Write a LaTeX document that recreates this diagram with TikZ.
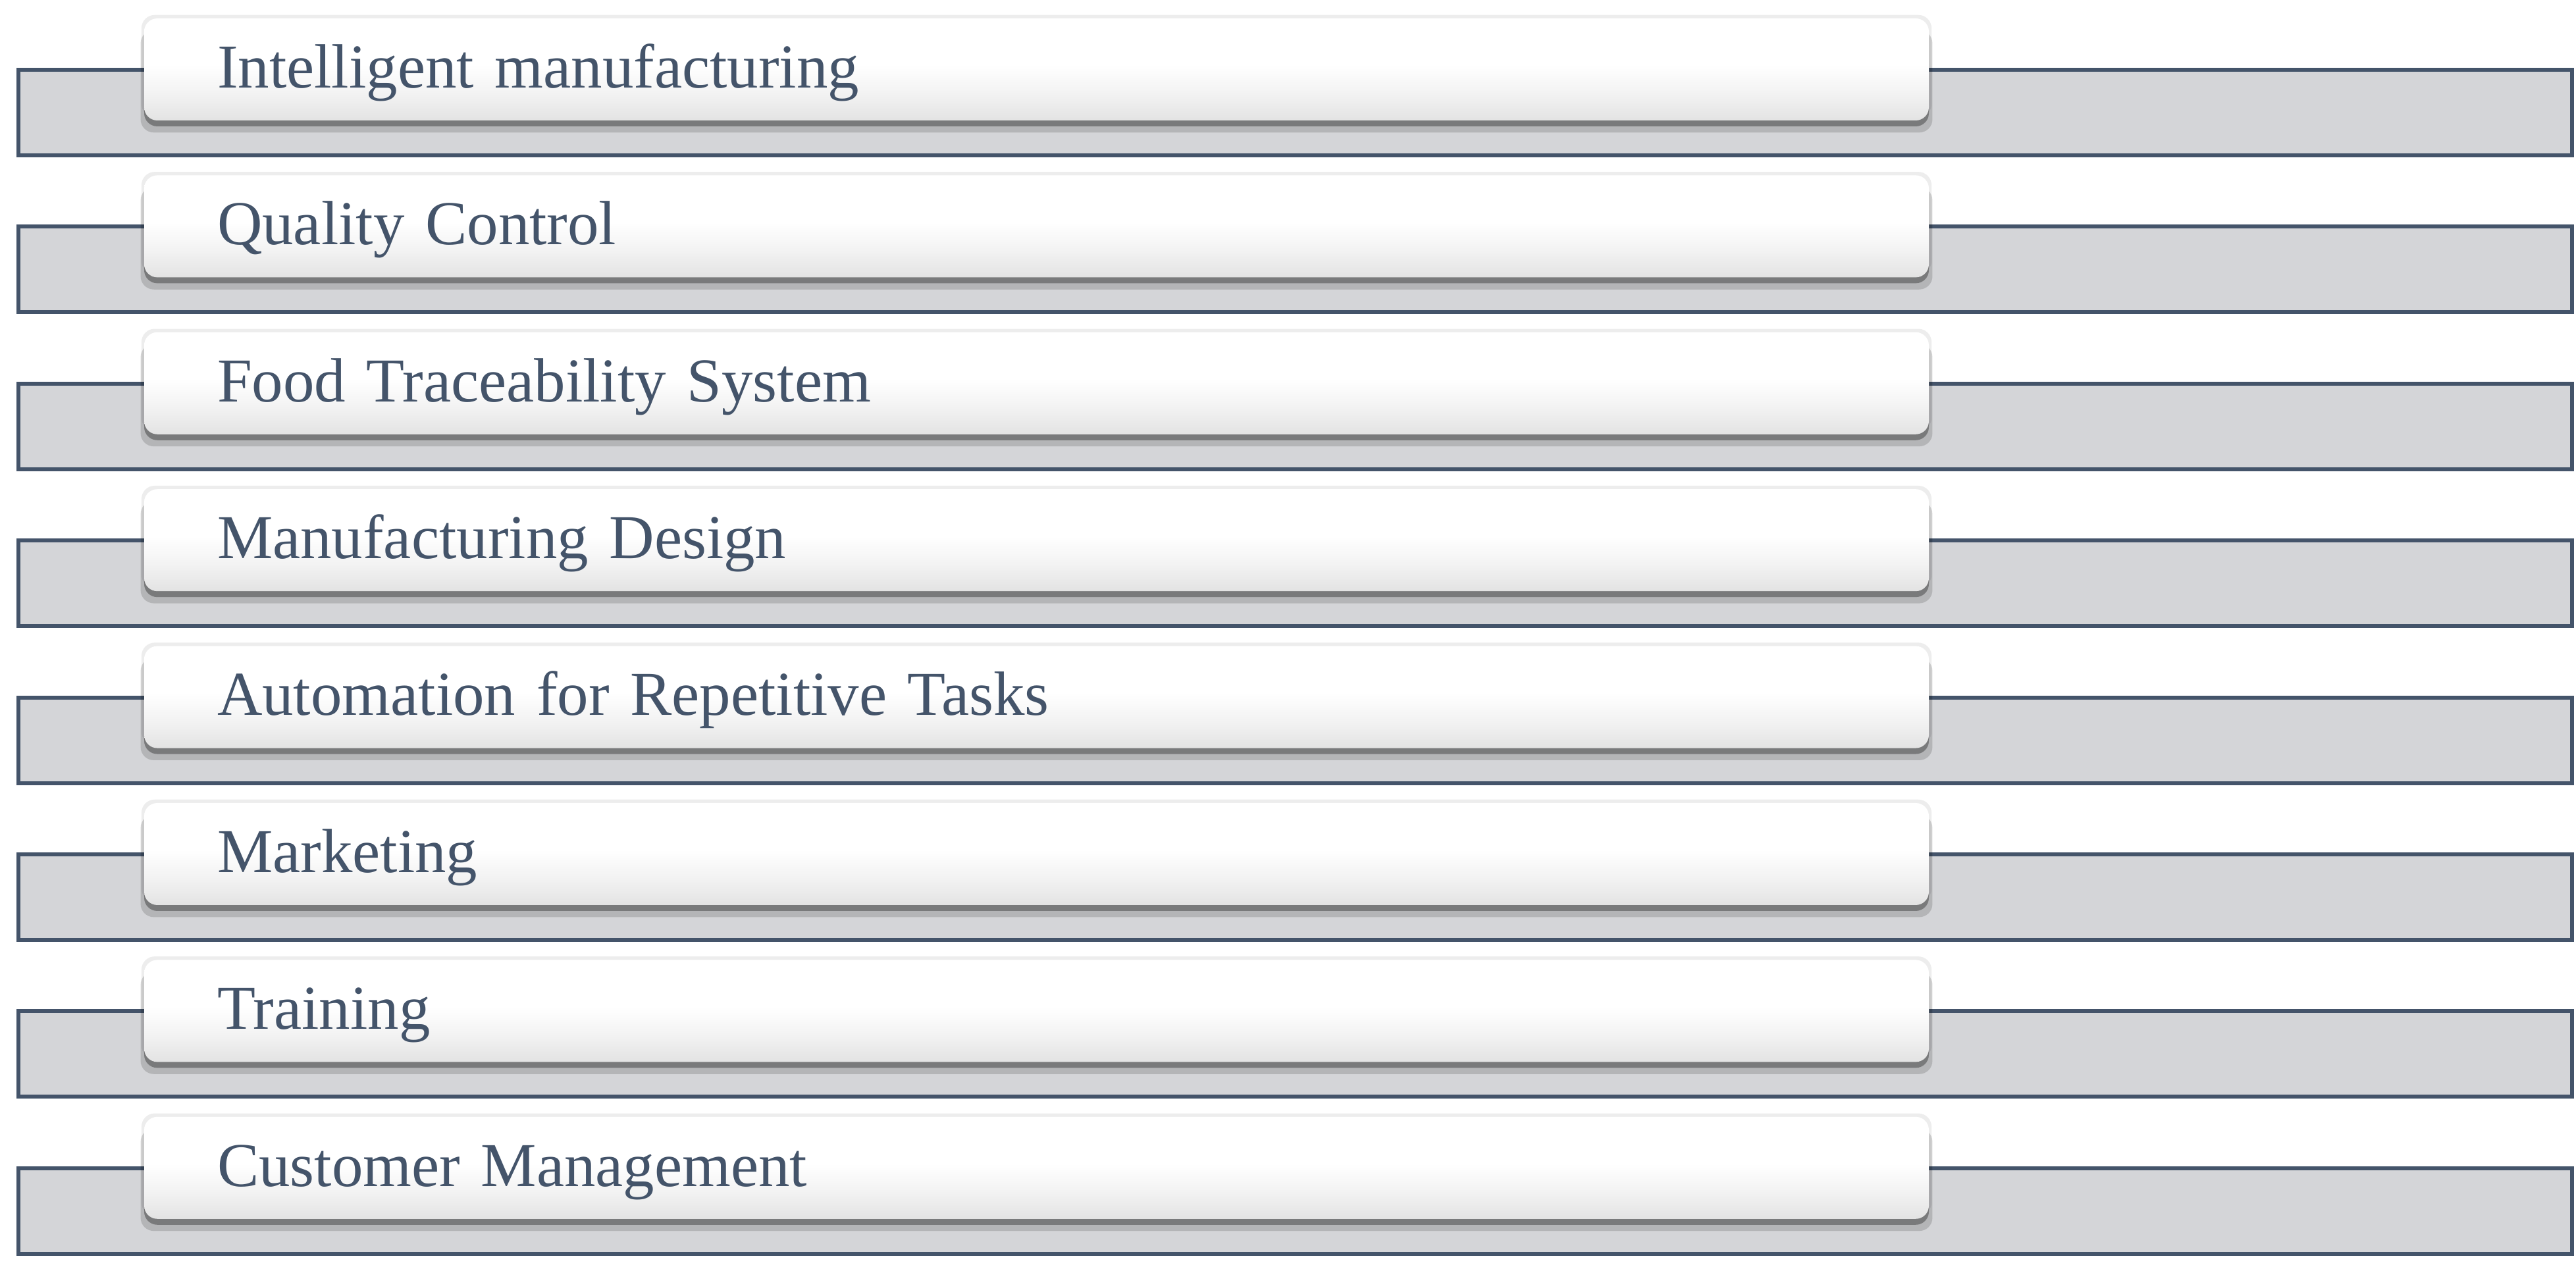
\documentclass[tikz,border=0pt]{standalone}
\usepackage{fontspec}
\setmainfont{Liberation Serif}
\usetikzlibrary{positioning,shadows}
\definecolor{slate}{HTML}{44546A}
\definecolor{bargray}{HTML}{D4D5D8}
\pgfdeclareverticalshading{tabshade}{100bp}{color(0bp)=(black!11); color(25bp)=(black!11);
    color(38bp)=(black!5); color(52bp)=(white); color(100bp)=(white)}

\begin{document}
\begin{tikzpicture}[
    bar/.style={draw=slate,line width=0.06cm,fill=bargray,inner sep=0pt,
                minimum width=38.79cm,minimum height=1.30cm},
    tab/.style={rounded corners=0.2cm,inner xsep=1.11cm,inner ysep=0pt,
                minimum height=1.55cm,text width=24.89cm,align=left,
                text height=0.75cm,text depth=0.194cm,shading=tabshade,
                text=slate,font=\fontsize{27}{31}\selectfont,
                general shadow={shadow yshift=0.05cm,shadow scale=1.003,opacity=0.07,fill=black},
                general shadow={shadow yshift=-0.18cm,shadow scale=1.004,opacity=0.15,fill=black},
                drop shadow={shadow xshift=0cm,shadow yshift=-0.09cm,opacity=0.5,fill=black!75}}]
    \useasboundingbox (0,0) rectangle (39.13,19.31);
    \foreach \txt [count=\i from 0] in {Intelligent manufacturing,Quality Control,
        Food Traceability System,Manufacturing Design,Automation for Repetitive Tasks,
        Marketing,Training,Customer Management}{
        \node[bar] (bar\i) at (19.675,17.60-2.384*\i) {};
        \node[tab] (tab\i) at (15.745,18.255-2.384*\i) {\txt};
    }
\end{tikzpicture}
\end{document}
